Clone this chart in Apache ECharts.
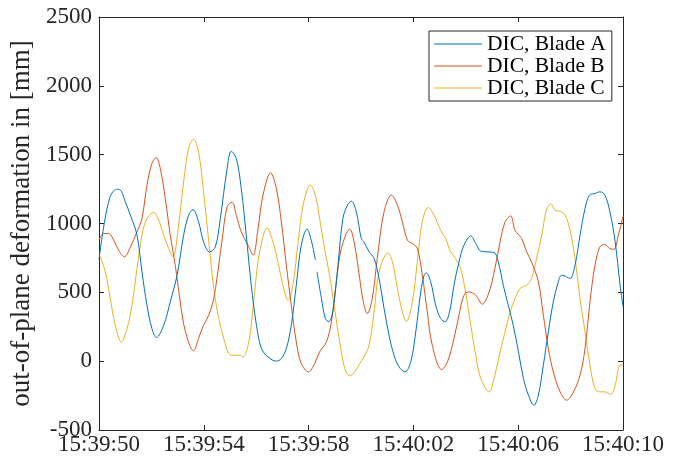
<!DOCTYPE html>
<html>
<head>
<meta charset="utf-8">
<script src="https://cdn.jsdelivr.net/npm/echarts@6/dist/echarts.min.js"></script>
<style>html,body{margin:0;padding:0;background:#fff}#c{width:681px;height:462px}</style>
</head>
<body>
<div id="c"></div>
<script>
// seconds after 15:39:50
const xTickLabels = ['15:39:50','15:39:54','15:39:58','15:40:02','15:40:06','15:40:10'];
const yTicks = [-500, 0, 500, 1000, 1500, 2000, 2500];
const seriesNames = ['DIC, Blade A', 'DIC, Blade B', 'DIC, Blade C'];

const tA = [0,0.2,0.4,0.55,0.71,0.85,1.0,1.2,1.45,1.64,1.83,2.02,2.19,2.47,2.72,2.98,3.23,3.42,3.59,3.80,3.99,4.22,4.44,4.63,4.89,5.05,5.24,5.43,5.62,5.81,6.01,6.20,6.45,6.77,6.96,7.15,7.34,7.53,7.72,7.94,8.10,8.26,8.29,8.32,8.49,8.64,8.77,8.93,9.12,9.31,9.48,9.63,9.82,10.01,10.11,10.31,10.50,10.69,10.88,11.07,11.26,11.45,11.68,11.90,12.09,12.28,12.41,12.49,12.66,12.85,13.04,13.21,13.38,13.55,13.74,13.93,14.19,14.38,14.57,14.82,15.08,15.24,15.43,15.62,15.81,16.01,16.20,16.39,16.60,16.77,16.96,17.15,17.34,17.53,17.66,17.85,17.98,18.17,18.36,18.55,18.72,18.93,19.12,19.31,19.50,19.70,19.89,20.0];
const vA = [740,1000,1180,1235,1249,1235,1160,1060,915,649,407,237,172,261,431,625,915,1060,1101,1012,867,794,830,1036,1399,1525,1472,1254,915,552,261,92,31,0,19,92,261,552,842,959,879,734,null,649,455,310,286,370,697,1036,1133,1162,1085,891,867,794,746,600,383,189,43,-41,-78,-5,213,503,625,641,576,407,310,286,358,552,721,842,910,855,799,794,789,721,552,407,261,68,-126,-247,-320,-247,-29,213,431,576,625,612,600,697,915,1109,1206,1218,1230,1206,1085,867,552,395];

const tB = [0,0.18,0.37,0.56,0.75,0.97,1.20,1.45,1.64,1.83,2.02,2.18,2.34,2.53,2.72,2.91,3.10,3.30,3.61,3.80,3.99,4.19,4.38,4.50,4.69,4.89,5.08,5.24,5.43,5.69,5.88,6.07,6.26,6.55,6.77,6.96,7.15,7.34,7.53,7.72,8.00,8.23,8.42,8.68,8.87,9.06,9.25,9.57,9.76,9.95,10.08,10.24,10.43,10.62,10.88,11.16,11.39,11.58,11.77,11.96,12.15,12.34,12.53,12.72,13.08,13.30,13.55,13.74,13.93,14.12,14.38,14.63,14.89,15.11,15.31,15.50,15.71,15.88,16.13,16.32,16.51,16.77,16.96,17.15,17.34,17.60,17.85,18.11,18.36,18.55,18.74,18.93,19.12,19.31,19.50,19.66,19.82,20.0];
const vB = [879,927,927,879,806,758,830,939,1036,1278,1436,1479,1399,1181,915,697,431,213,75,165,261,334,455,600,867,1121,1155,1060,939,842,770,963,1206,1368,1254,1012,697,407,140,-17,-78,-17,68,140,286,576,818,959,842,600,440,346,455,746,1085,1206,1133,1012,879,855,818,625,358,116,-61,-5,165,334,479,503,479,414,503,673,867,1012,1055,951,891,794,721,576,334,92,-78,-223,-283,-223,-102,92,431,697,830,847,818,813,915,1050];

const tC = [0,0.24,0.43,0.62,0.85,1.07,1.26,1.45,1.64,1.83,2.09,2.28,2.47,2.66,2.82,3.04,3.23,3.42,3.61,3.80,3.99,4.19,4.38,4.57,4.76,4.95,5.11,5.37,5.50,5.69,5.81,5.94,6.13,6.42,6.64,6.83,7.02,7.21,7.40,7.60,7.79,8.07,8.26,8.42,8.61,8.80,8.99,9.19,9.38,9.57,9.76,9.95,10.11,10.31,10.50,10.69,11.03,11.20,11.39,11.58,11.73,11.96,12.15,12.34,12.57,12.79,13.04,13.23,13.42,13.61,13.80,13.99,14.19,14.38,14.57,14.89,15.11,15.31,15.50,15.69,15.88,16.07,16.32,16.51,16.70,16.90,17.06,17.24,17.40,17.60,17.79,17.98,18.17,18.36,18.55,18.74,18.93,19.12,19.31,19.53,19.70,19.89,20.0];
const vC = [782,649,455,261,140,237,407,673,915,1036,1080,1024,915,818,758,988,1302,1545,1612,1520,1230,867,528,310,165,56,43,43,31,116,261,503,794,968,867,721,552,443,552,867,1133,1278,1206,1036,818,625,383,140,-53,-107,-78,-17,31,116,358,649,787,721,528,358,290,431,721,1012,1116,1060,951,891,794,746,673,503,261,43,-126,-223,-102,68,213,358,455,528,552,600,746,915,1085,1145,1097,1089,1060,951,746,455,213,-29,-198,-223,-223,-242,-174,-29,-30];

const colors = ['#0072BD', '#D95319', '#EDB120'];
const zip = (t, v) => t.map((x, i) => [x, v[i]]);
const FONT = 'Liberation Serif';
const AX = '#262626';

const chart = echarts.init(document.getElementById('c'), null, {renderer: 'canvas'});
const axisCommon = {
  min: 0, max: 20, interval: 4, type: 'value',
  axisLine: {show: true, onZero: false, lineStyle: {color: AX, width: 1}},
  axisTick: {show: true, inside: true, length: 5, lineStyle: {color: AX}},
  splitLine: {show: false}
};
const yCommon = {
  type: 'value', min: -500, max: 2500, interval: 500,
  axisLine: {show: true, onZero: false, lineStyle: {color: AX, width: 1}},
  axisTick: {show: true, inside: true, length: 5, lineStyle: {color: AX}},
  splitLine: {show: false}
};
chart.setOption({
  animation: false,
  backgroundColor: '#fff',
  grid: {left: 99, right: 58, top: 17, bottom: 32, containLabel: false},
  xAxis: [
    Object.assign({}, axisCommon, {position: 'bottom',
      axisLabel: {color: AX, fontFamily: FONT, fontSize: 23, margin: 3,
        formatter: v => xTickLabels[Math.round(v / 4)]}}),
    Object.assign({}, axisCommon, {position: 'top', axisLabel: {show: false}})
  ],
  yAxis: [
    Object.assign({}, yCommon, {position: 'left',
      name: 'out-of-plane deformation in [mm]', nameLocation: 'middle', nameGap: 50,
      nameTextStyle: {color: AX, fontFamily: FONT, fontSize: 27},
      axisLabel: {color: AX, fontFamily: FONT, fontSize: 23, margin: 7,
        formatter: v => String(yTicks[yTicks.indexOf(v)])}}),
    Object.assign({}, yCommon, {position: 'right', axisLabel: {show: false}})
  ],
  legend: {
    orient: 'vertical', left: 429, top: 31,
    backgroundColor: '#fff', borderColor: AX, borderWidth: 1,
    padding: [2, 6, 2, 5], itemGap: 0, itemWidth: 48, itemHeight: 1,
    icon: 'rect',
    textStyle: {color: '#000', fontFamily: FONT, fontSize: 21.5, lineHeight: 21, padding: [0, 0, 0, 0]},
    data: seriesNames
  },
  series: [
    {name: seriesNames[0], type: 'line', data: zip(tA, vA)},
    {name: seriesNames[1], type: 'line', data: zip(tB, vB)},
    {name: seriesNames[2], type: 'line', data: zip(tC, vC)}
  ].map((s, i) => Object.assign(s, {
    symbol: 'none', smooth: 0.35, connectNulls: false,
    color: colors[i], lineStyle: {width: 1, color: colors[i]}, z: 3 - i
  }))
});
</script>
</body>
</html>
